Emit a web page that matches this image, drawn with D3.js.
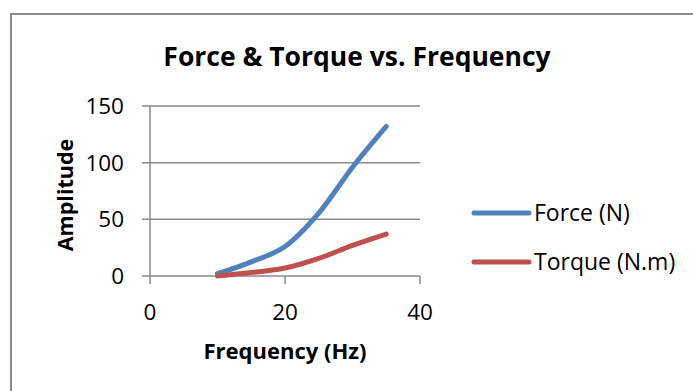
<!DOCTYPE html>
<html>
<head>
<meta charset="utf-8">
<script src="https://cdn.jsdelivr.net/npm/d3@7"></script>
<style>
  body { margin: 0; background: #fff; }
  text { font-family: "Open Sans", "Liberation Sans", sans-serif; fill: #000; }
</style>
</head>
<body>
<div id="chart"></div>
<script>
// chart data
const frequency = [10, 15, 20, 25, 30, 35];
const force = [2, 12.5, 26, 55.5, 96, 132];
const torque = [0, 3, 7, 15.5, 27, 37];
const seriesNames = ["Force (N)", "Torque (N.m)"];
const seriesColors = ["#4F81BD", "#C0504D"];
const xTicks = [0, 20, 40];
const yTicks = [0, 50, 100, 150];

function drawChart() {
    const width = 693, height = 391;

    const svg = d3.select("#chart")
        .append("svg")
        .attr("width", width)
        .attr("height", height);

    svg.append("rect")
        .attr("width", width).attr("height", height)
        .attr("fill", "#fff");

    // chart border (right and bottom edges fall outside the picture)
    svg.append("rect")
        .attr("x", 11).attr("y", 14)
        .attr("width", 720).attr("height", 420)
        .attr("fill", "none")
        .attr("stroke", "#8a8a8a")
        .attr("stroke-width", 2);

    const x = d3.scaleLinear().domain([0, 40]).range([150, 420]);
    const y = d3.scaleLinear().domain([0, 150]).range([276, 106]);

    // horizontal gridlines + left ticks
    svg.append("g")
        .selectAll("line")
        .data(yTicks)
        .enter()
        .append("line")
        .attr("x1", x(0) - 8).attr("x2", x(40))
        .attr("y1", d => y(d)).attr("y2", d => y(d))
        .attr("stroke", "#8a8a8a")
        .attr("stroke-width", 1.5);

    // y axis line
    svg.append("line")
        .attr("x1", x(0)).attr("x2", x(0))
        .attr("y1", y(150)).attr("y2", y(0))
        .attr("stroke", "#8a8a8a")
        .attr("stroke-width", 1.5);

    // x ticks
    svg.append("g")
        .selectAll("line")
        .data(xTicks)
        .enter()
        .append("line")
        .attr("x1", d => x(d)).attr("x2", d => x(d))
        .attr("y1", y(0)).attr("y2", y(0) + 8)
        .attr("stroke", "#8a8a8a")
        .attr("stroke-width", 1.5);

    // tick labels
    svg.append("g")
        .selectAll("text")
        .data(yTicks)
        .enter()
        .append("text")
        .attr("x", 124)
        .attr("y", d => y(d))
        .attr("dy", "0.36em")
        .attr("text-anchor", "end")
        .style("font-size", "22.5px")
        .text(d => d);

    svg.append("g")
        .selectAll("text")
        .data(xTicks)
        .enter()
        .append("text")
        .attr("x", d => x(d))
        .attr("y", 320)
        .attr("text-anchor", "middle")
        .style("font-size", "22.5px")
        .text(d => d);

    // title and axis titles
    svg.append("text")
        .attr("x", 357).attr("y", 66)
        .attr("text-anchor", "middle")
        .style("font-size", "26.5px")
        .style("font-weight", "bold")
        .text("Force & Torque vs. Frequency");

    svg.append("text")
        .attr("x", 285).attr("y", 359)
        .attr("text-anchor", "middle")
        .style("font-size", "22px")
        .style("font-weight", "bold")
        .text("Frequency (Hz)");

    svg.append("text")
        .attr("transform", "translate(73,195) rotate(-90)")
        .attr("text-anchor", "middle")
        .style("font-size", "21.5px")
        .style("font-weight", "bold")
        .text("Amplitude");

    // smoothed lines
    const line = d3.line()
        .x(d => x(d[0]))
        .y(d => y(d[1]))
        .curve(d3.curveCatmullRom.alpha(0));

    const series = [force, torque].map(vals => frequency.map((f, i) => [f, vals[i]]));

    svg.append("g")
        .selectAll("path")
        .data(series)
        .enter()
        .append("path")
        .attr("d", line)
        .attr("fill", "none")
        .attr("stroke", (d, i) => seriesColors[i])
        .attr("stroke-width", 5)
        .attr("stroke-linecap", "round");

    // legend
    const legend = svg.append("g")
        .selectAll("g")
        .data(seriesNames)
        .enter()
        .append("g")
        .attr("transform", (d, i) => `translate(0, ${213 + i * 49})`);

    legend.append("line")
        .attr("x1", 474).attr("x2", 529)
        .attr("stroke", (d, i) => seriesColors[i])
        .attr("stroke-width", 5)
        .attr("stroke-linecap", "round");

    legend.append("text")
        .attr("x", 534)
        .attr("dy", "0.36em")
        .style("font-size", "23px")
        .text(d => d);
}

document.addEventListener("DOMContentLoaded", drawChart);
</script>
</body>
</html>
